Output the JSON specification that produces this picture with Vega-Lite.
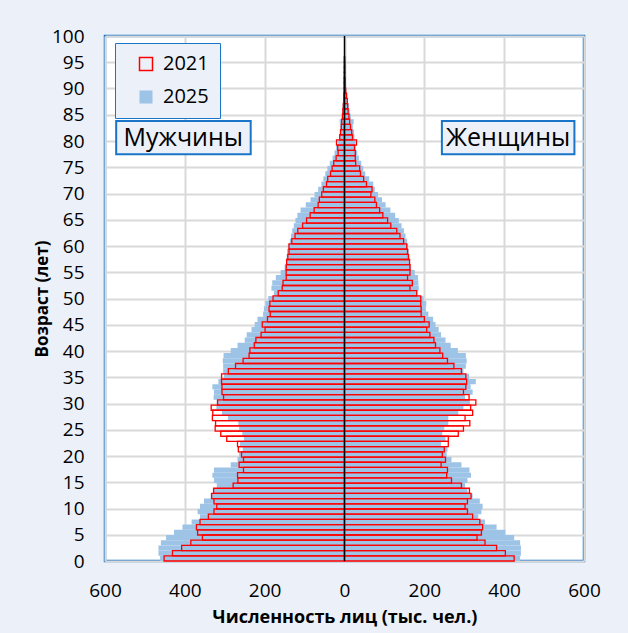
{
"$schema": "https://vega.github.io/schema/vega-lite/v6.json",
"width": 479, "height": 525,
"autosize": {"type": "none"},
"padding": {"left": 105, "top": 36, "right": 44, "bottom": 72},
"background": "#ECF0F8",
"config": {
  "font": "Open Sans",
  "view": {"fill": "#FFFFFF", "stroke": "#1A75C8", "strokeWidth": 2.5},
  "axis": {"labelFont": "Open Sans", "labelFontSize": 19, "labelColor": "#000000", "titleColor": "#000000", "titleFont": "Open Sans", "titleFontWeight": "bold", "ticks": false, "domain": false, "gridColor": "#D9D9D9", "gridWidth": 2, "labelOverlap": false, "labelFlush": false}
},
"data": {"values": [
{"a":0,"yr":"2025","m":-462,"f":440},{"a":1,"yr":"2025","m":-466,"f":442},{"a":2,"yr":"2025","m":-466,"f":442},{"a":3,"yr":"2025","m":-460,"f":440},{"a":4,"yr":"2025","m":-447,"f":425},{"a":5,"yr":"2025","m":-427,"f":403},{"a":6,"yr":"2025","m":-406,"f":381},{"a":7,"yr":"2025","m":-383,"f":352},{"a":8,"yr":"2025","m":-362,"f":335},{"a":9,"yr":"2025","m":-368,"f":343},
{"a":10,"yr":"2025","m":-362,"f":346},{"a":11,"yr":"2025","m":-352,"f":339},{"a":12,"yr":"2025","m":-335,"f":321},{"a":13,"yr":"2025","m":-327,"f":308},{"a":14,"yr":"2025","m":-320,"f":302},{"a":15,"yr":"2025","m":-327,"f":308},{"a":16,"yr":"2025","m":-331,"f":317},{"a":17,"yr":"2025","m":-327,"f":313},{"a":18,"yr":"2025","m":-285,"f":293},{"a":19,"yr":"2025","m":-268,"f":268},
{"a":20,"yr":"2025","m":-264,"f":256},{"a":21,"yr":"2025","m":-255,"f":258},{"a":22,"yr":"2025","m":-262,"f":242},{"a":23,"yr":"2025","m":-252,"f":253},{"a":24,"yr":"2025","m":-256,"f":245},{"a":25,"yr":"2025","m":-264,"f":250},{"a":26,"yr":"2025","m":-266,"f":260},{"a":27,"yr":"2025","m":-292,"f":260},{"a":28,"yr":"2025","m":-307,"f":285},{"a":29,"yr":"2025","m":-321,"f":298},
{"a":30,"yr":"2025","m":-320,"f":314},{"a":31,"yr":"2025","m":-328,"f":302},{"a":32,"yr":"2025","m":-327,"f":321},{"a":33,"yr":"2025","m":-331,"f":316},{"a":34,"yr":"2025","m":-316,"f":329},{"a":35,"yr":"2025","m":-302,"f":312},{"a":36,"yr":"2025","m":-304,"f":298},{"a":37,"yr":"2025","m":-304,"f":304},{"a":38,"yr":"2025","m":-305,"f":306},{"a":39,"yr":"2025","m":-303,"f":304},
{"a":40,"yr":"2025","m":-285,"f":284},{"a":41,"yr":"2025","m":-268,"f":266},{"a":42,"yr":"2025","m":-250,"f":253},{"a":43,"yr":"2025","m":-245,"f":242},{"a":44,"yr":"2025","m":-233,"f":236},{"a":45,"yr":"2025","m":-225,"f":228},{"a":46,"yr":"2025","m":-218,"f":222},{"a":47,"yr":"2025","m":-204,"f":210},{"a":48,"yr":"2025","m":-202,"f":204},{"a":49,"yr":"2025","m":-198,"f":205},
{"a":50,"yr":"2025","m":-191,"f":198},{"a":51,"yr":"2025","m":-177,"f":182},{"a":52,"yr":"2025","m":-183,"f":186},{"a":53,"yr":"2025","m":-181,"f":185},{"a":54,"yr":"2025","m":-172,"f":184},{"a":55,"yr":"2025","m":-160,"f":176},{"a":56,"yr":"2025","m":-150,"f":167},{"a":57,"yr":"2025","m":-146,"f":164},{"a":58,"yr":"2025","m":-145,"f":163},{"a":59,"yr":"2025","m":-144,"f":161},
{"a":60,"yr":"2025","m":-142,"f":159},{"a":61,"yr":"2025","m":-137,"f":157},{"a":62,"yr":"2025","m":-134,"f":153},{"a":63,"yr":"2025","m":-131,"f":149},{"a":64,"yr":"2025","m":-127,"f":143},{"a":65,"yr":"2025","m":-123,"f":136},{"a":66,"yr":"2025","m":-118,"f":127},{"a":67,"yr":"2025","m":-110,"f":115},{"a":68,"yr":"2025","m":-97,"f":103},{"a":69,"yr":"2025","m":-85,"f":94},
{"a":70,"yr":"2025","m":-75,"f":84},{"a":71,"yr":"2025","m":-66,"f":76},{"a":72,"yr":"2025","m":-58,"f":72},{"a":73,"yr":"2025","m":-53,"f":62},{"a":74,"yr":"2025","m":-48,"f":52},{"a":75,"yr":"2025","m":-43,"f":47},{"a":76,"yr":"2025","m":-37,"f":42},{"a":77,"yr":"2025","m":-30,"f":36},{"a":78,"yr":"2025","m":-25,"f":32},{"a":79,"yr":"2025","m":-21,"f":28},
{"a":80,"yr":"2025","m":-16,"f":27},{"a":81,"yr":"2025","m":-13,"f":25},{"a":82,"yr":"2025","m":-11,"f":24},{"a":83,"yr":"2025","m":-11,"f":21},{"a":84,"yr":"2025","m":-12,"f":23},{"a":85,"yr":"2025","m":-7,"f":16},{"a":86,"yr":"2025","m":-6,"f":13},{"a":87,"yr":"2025","m":-5,"f":11},{"a":88,"yr":"2025","m":-3,"f":9},{"a":89,"yr":"2025","m":-2,"f":7},
{"a":90,"yr":"2025","m":-2,"f":5},{"a":91,"yr":"2025","m":-1.5,"f":4},{"a":92,"yr":"2025","m":-1,"f":3},{"a":93,"yr":"2025","m":-1,"f":2},{"a":94,"yr":"2025","m":-0.5,"f":1.5},{"a":95,"yr":"2025","m":-0.5,"f":1},{"a":96,"yr":"2025","m":-0.3,"f":0.5},
{"a":0,"yr":"2021","m":-452,"f":425},{"a":1,"yr":"2021","m":-431,"f":403},{"a":2,"yr":"2021","m":-408,"f":381},{"a":3,"yr":"2021","m":-385,"f":352},{"a":4,"yr":"2021","m":-356,"f":332},{"a":5,"yr":"2021","m":-368,"f":343},{"a":6,"yr":"2021","m":-371,"f":346},{"a":7,"yr":"2021","m":-362,"f":339},{"a":8,"yr":"2021","m":-341,"f":321},{"a":9,"yr":"2021","m":-327,"f":308},
{"a":10,"yr":"2021","m":-320,"f":302},{"a":11,"yr":"2021","m":-327,"f":308},{"a":12,"yr":"2021","m":-333,"f":317},{"a":13,"yr":"2021","m":-328,"f":313},{"a":14,"yr":"2021","m":-279,"f":293},{"a":15,"yr":"2021","m":-267,"f":268},{"a":16,"yr":"2021","m":-268,"f":256},{"a":17,"yr":"2021","m":-253,"f":258},{"a":18,"yr":"2021","m":-264,"f":242},{"a":19,"yr":"2021","m":-253,"f":253},
{"a":20,"yr":"2021","m":-258,"f":245},{"a":21,"yr":"2021","m":-266,"f":250},{"a":22,"yr":"2021","m":-268,"f":260},{"a":23,"yr":"2021","m":-295,"f":260},{"a":24,"yr":"2021","m":-310,"f":285},{"a":25,"yr":"2021","m":-324,"f":298},{"a":26,"yr":"2021","m":-323,"f":314},{"a":27,"yr":"2021","m":-331,"f":302},{"a":28,"yr":"2021","m":-330,"f":321},{"a":29,"yr":"2021","m":-334,"f":316},
{"a":30,"yr":"2021","m":-318,"f":329},{"a":31,"yr":"2021","m":-303,"f":312},{"a":32,"yr":"2021","m":-307,"f":298},{"a":33,"yr":"2021","m":-307,"f":304},{"a":34,"yr":"2021","m":-308,"f":306},{"a":35,"yr":"2021","m":-308,"f":304},{"a":36,"yr":"2021","m":-291,"f":293},{"a":37,"yr":"2021","m":-273,"f":274},{"a":38,"yr":"2021","m":-254,"f":258},{"a":39,"yr":"2021","m":-239,"f":246},
{"a":40,"yr":"2021","m":-237,"f":239},{"a":41,"yr":"2021","m":-226,"f":228},{"a":42,"yr":"2021","m":-222,"f":224},{"a":43,"yr":"2021","m":-209,"f":214},{"a":44,"yr":"2021","m":-199,"f":206},{"a":45,"yr":"2021","m":-206,"f":212},{"a":46,"yr":"2021","m":-193,"f":200},{"a":47,"yr":"2021","m":-186,"f":192},{"a":48,"yr":"2021","m":-189,"f":192},{"a":49,"yr":"2021","m":-187,"f":191},
{"a":50,"yr":"2021","m":-179,"f":191},{"a":51,"yr":"2021","m":-166,"f":181},{"a":52,"yr":"2021","m":-156,"f":164},{"a":53,"yr":"2021","m":-154,"f":170},{"a":54,"yr":"2021","m":-146,"f":158},{"a":55,"yr":"2021","m":-146,"f":164},{"a":56,"yr":"2021","m":-146,"f":164},{"a":57,"yr":"2021","m":-145,"f":163},{"a":58,"yr":"2021","m":-142,"f":160},{"a":59,"yr":"2021","m":-139,"f":158},
{"a":60,"yr":"2021","m":-139,"f":156},{"a":61,"yr":"2021","m":-132,"f":148},{"a":62,"yr":"2021","m":-124,"f":139},{"a":63,"yr":"2021","m":-117,"f":131},{"a":64,"yr":"2021","m":-105,"f":116},{"a":65,"yr":"2021","m":-95,"f":108},{"a":66,"yr":"2021","m":-86,"f":96},{"a":67,"yr":"2021","m":-76,"f":88},{"a":68,"yr":"2021","m":-66,"f":80},{"a":69,"yr":"2021","m":-63,"f":76},
{"a":70,"yr":"2021","m":-57,"f":66},{"a":71,"yr":"2021","m":-53,"f":69},{"a":72,"yr":"2021","m":-45,"f":55},{"a":73,"yr":"2021","m":-42,"f":48},{"a":74,"yr":"2021","m":-35,"f":40},{"a":75,"yr":"2021","m":-31,"f":38},{"a":76,"yr":"2021","m":-27,"f":28},{"a":77,"yr":"2021","m":-21,"f":27},{"a":78,"yr":"2021","m":-16,"f":27},{"a":79,"yr":"2021","m":-17,"f":25},
{"a":80,"yr":"2021","m":-20,"f":30},{"a":81,"yr":"2021","m":-12,"f":20},{"a":82,"yr":"2021","m":-10,"f":18},{"a":83,"yr":"2021","m":-8,"f":15},{"a":84,"yr":"2021","m":-7,"f":13},{"a":85,"yr":"2021","m":-5,"f":11},{"a":86,"yr":"2021","m":-4,"f":9},{"a":87,"yr":"2021","m":-3,"f":8},{"a":88,"yr":"2021","m":-2,"f":7},{"a":89,"yr":"2021","m":-2,"f":5},
{"a":90,"yr":"2021","m":-1,"f":3},{"a":91,"yr":"2021","m":-1,"f":2},{"a":92,"yr":"2021","m":-1,"f":2},{"a":93,"yr":"2021","m":-0.5,"f":1},{"a":94,"yr":"2021","m":-0.5,"f":1},{"a":95,"yr":"2021","m":-0.3,"f":1},{"a":96,"yr":"2021","m":-0.2,"f":0.5}
]},
"layer": [
 {"layer": [
  {"mark": {"type": "bar", "strokeWidth": 1.3},
   "encoding": {
    "x": {"field": "m", "type": "quantitative", "stack": null, "scale": {"domain": [-600, 600], "nice": false}, "axis": {"values": [-600,-400,-200,0,200,400,600], "labelExpr": "abs(datum.value)", "labelPadding": 20, "title": "Численность лиц (тыс. чел.)", "titleFontSize": 18, "titlePadding": 8, "grid": true}},
    "y": {"field": "a", "type": "ordinal", "scale": {"domain": [100,99,98,97,96,95,94,93,92,91,90,89,88,87,86,85,84,83,82,81,80,79,78,77,76,75,74,73,72,71,70,69,68,67,66,65,64,63,62,61,60,59,58,57,56,55,54,53,52,51,50,49,48,47,46,45,44,43,42,41,40,39,38,37,36,35,34,33,32,31,30,29,28,27,26,25,24,23,22,21,20,19,18,17,16,15,14,13,12,11,10,9,8,7,6,5,4,3,2,1,0], "paddingInner": 0, "paddingOuter": 0}, "axis": null},
    "fill": {"field": "yr", "type": "nominal", "scale": {"domain": ["2021", "2025"], "range": ["transparent", "#9DC3E6"]}, "legend": {"orient": "none", "legendX": 10, "legendY": 7, "title": null, "fillColor": "#ECF0F8", "strokeColor": "#1A75C8", "padding": 11, "rowPadding": 13, "symbolType": "square", "symbolSize": 169, "symbolStrokeWidth": 1.5, "symbolOffset": 10, "labelFontSize": 20, "labelOffset": 7, "labelFont": "Open Sans", "labelColor": "#000000"}},
    "stroke": {"field": "yr", "type": "nominal", "scale": {"domain": ["2021", "2025"], "range": ["#FF0000", "transparent"]}}
   }},
  {"mark": {"type": "bar", "strokeWidth": 1.3},
   "encoding": {
    "x": {"field": "f", "type": "quantitative", "stack": null, "axis": {"title": "Численность лиц (тыс. чел.)"}},
    "y": {"field": "a", "type": "ordinal", "axis": null},
    "fill": {"field": "yr", "type": "nominal"},
    "stroke": {"field": "yr", "type": "nominal"}
   }}
 ]},
 {"data": {"values": [{}]},
  "mark": {"type": "rule", "color": "#000000", "strokeWidth": 1.5},
  "encoding": {
   "x": {"datum": 0, "type": "quantitative"},
   "y": {"datum": 0, "type": "quantitative", "scale": {"domain": [0, 100], "nice": false}, "axis": {"orient": "left", "values": [0,5,10,15,20,25,30,35,40,45,50,55,60,65,70,75,80,85,90,95,100], "labelOverlap": false, "grid": true, "labelPadding": 21, "title": "Возраст (лет)", "titleFontSize": 17, "titlePadding": 0}},
   "y2": {"datum": 100}
  }},
 {"layer": [
  {"data": {"values": [{}]},
   "mark": {"type": "rect", "fill": "#ECF0F8", "stroke": "#1A75C8", "strokeWidth": 2},
   "encoding": {
    "x": {"datum": -572, "type": "quantitative"}, "x2": {"datum": -235},
    "y": {"datum": 77.5, "type": "quantitative", "scale": {"domain": [0, 100], "nice": false}, "axis": null}, "y2": {"datum": 83.8}
   }},
  {"data": {"values": [{}]},
   "mark": {"type": "text", "fontSize": 25, "font": "Open Sans", "color": "#000000"},
   "encoding": {
    "x": {"datum": -404, "type": "quantitative"},
    "y": {"datum": 80.6, "type": "quantitative", "axis": null},
    "text": {"value": "Мужчины"}
   }},
  {"data": {"values": [{}]},
   "mark": {"type": "rect", "fill": "#ECF0F8", "stroke": "#1A75C8", "strokeWidth": 2},
   "encoding": {
    "x": {"datum": 244, "type": "quantitative"}, "x2": {"datum": 576},
    "y": {"datum": 77.5, "type": "quantitative", "axis": null}, "y2": {"datum": 83.8}
   }},
  {"data": {"values": [{}]},
   "mark": {"type": "text", "fontSize": 25, "font": "Open Sans", "color": "#000000"},
   "encoding": {
    "x": {"datum": 410, "type": "quantitative"},
    "y": {"datum": 80.6, "type": "quantitative", "axis": null},
    "text": {"value": "Женщины"}
   }}
 ]}
],
"resolve": {"scale": {"y": "independent"}}
}
